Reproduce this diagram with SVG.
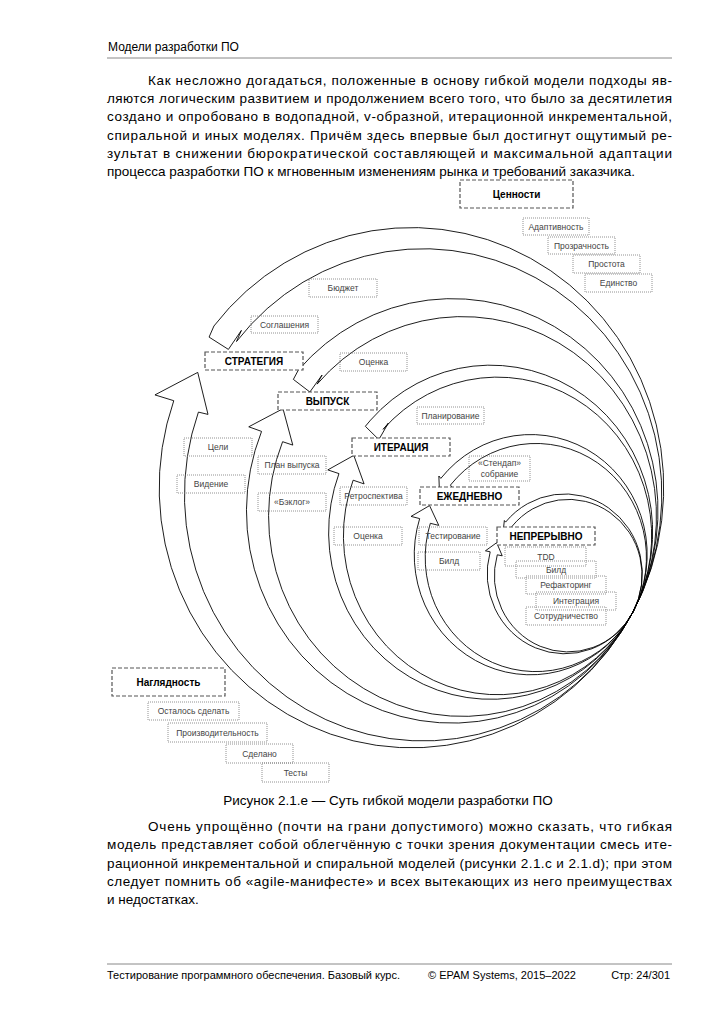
<svg xmlns="http://www.w3.org/2000/svg" width="725" height="1024" viewBox="0 0 725 1024">
<style>
.t{font-family:"Liberation Sans",Arial,sans-serif;fill:#000}
.p{font-size:13.5px}
.f{font-size:11px}
.band{fill:#fff;stroke:#000;stroke-width:0.9;stroke-linejoin:miter}
.hd rect{fill:#fff;stroke:#555;stroke-width:1.2;stroke-dasharray:4 2}
.hd text{font-family:"Liberation Sans",Arial,sans-serif;font-weight:bold;font-size:10px;text-anchor:middle;fill:#000}
.sm rect{fill:none;stroke:#777;stroke-width:0.8;stroke-dasharray:1 1}
.sm text{font-family:"Liberation Sans",Arial,sans-serif;font-size:8.5px;text-anchor:middle;fill:#444}
</style>
<rect width="725" height="1024" fill="#fff"/>

<g id="page-header">
<text class="t" x="108" y="51" font-size="12">Модели разработки ПО</text>
<line x1="107" y1="58" x2="672" y2="58" stroke="#888" stroke-width="1"/>
</g>

<g id="paragraph1" class="t p">
<text x="148" y="84.7" textLength="524" lengthAdjust="spacing">Как несложно догадаться, положенные в основу гибкой модели подходы яв-</text>
<text x="107" y="103" textLength="565" lengthAdjust="spacing">ляются логическим развитием и продолжением всего того, что было за десятилетия</text>
<text x="107" y="121.3" textLength="565" lengthAdjust="spacing">создано и опробовано в водопадной, v-образной, итерационной инкрементальной,</text>
<text x="107" y="139.6" textLength="565" lengthAdjust="spacing">спиральной и иных моделях. Причём здесь впервые был достигнут ощутимый ре-</text>
<text x="107" y="157.9" textLength="565" lengthAdjust="spacing">зультат в снижении бюрократической составляющей и максимальной адаптации</text>
<text x="107" y="176.2">процесса разработки ПО к мгновенным изменениям рынка и требований заказчика.</text>
</g>

<g id="connectors" transform="matrix(0.97 0 0 1 18.96 0)">
<path class="band" d="M633,612 A260,260 0 0 0 201.0,326.0 L196.0,337.1 L215.9,349.4 L229.3,330.4 L224.3,341.5 A246,246 0 0 1 633,612 Z"/>
<path class="band" d="M633,612 A260,260 0 0 1 159.6,400.7 L140.2,394.9 L184.3,372.4 L194.9,414.4 L185.0,412.1 A246,246 0 0 0 633,612 Z"/>
<path class="band" d="M633,612 A212,212 0 0 0 287.9,370.3 L282.9,379.4 L299.9,392.0 L312.5,375.0 L307.4,384.1 A200,200 0 0 1 633,612 Z"/>
<path class="band" d="M633,612 A212,212 0 0 1 250.1,431.4 L236.9,426.8 L272.2,408.7 L282.3,445.1 L271.8,441.7 A200,200 0 0 0 633,612 Z"/>
<path class="band" d="M633,612 A167,167 0 0 0 362.5,420.1 L357.1,426.3 L371.0,439.6 L380.8,423.1 L375.5,429.3 A159,159 0 0 1 633,612 Z"/>
<path class="band" d="M633,612 A167,167 0 0 1 329.9,473.6 L318.4,469.9 L345.2,455.4 L355.8,483.9 L344.5,480.2 A159,159 0 0 0 633,612 Z"/>
<path class="band" d="M633,612 A120,120 0 0 0 434.9,478.4 L432.9,476.0 L433.4,489.4 L446.7,487.4 L444.8,485.1 A114,114 0 0 1 633,612 Z"/>
<path class="band" d="M633,612 A120,120 0 0 1 413.1,518.6 L404.2,516.4 L423.3,505.6 L432.8,525.4 L424.1,523.3 A114,114 0 0 0 633,612 Z"/>
<path class="band" d="M633,612 A80,80 0 0 0 501.7,522.1 L500.4,520.5 L499.2,531.2 L509.6,528.2 L508.2,526.5 A76,76 0 0 1 633,612 Z"/>
<path class="band" d="M633,612 A80,80 0 0 1 485.8,551.8 L480.9,550.8 L492.5,542.7 L498.2,555.8 L493.1,554.8 A76,76 0 0 0 633,612 Z"/>
</g>

<g id="values" class="hd"><rect x="460" y="180" width="113" height="28"/><text x="516.5" y="197.5">Ценности</text></g>
<g id="strategy" class="hd"><rect x="205" y="352" width="98" height="18"/><text x="254" y="364.6">СТРАТЕГИЯ</text></g>
<g id="release" class="hd"><rect x="278" y="392" width="99" height="18"/><text x="327.5" y="404.6">ВЫПУСК</text></g>
<g id="iteration" class="hd"><rect x="352" y="438" width="98" height="18"/><text x="401" y="450.6">ИТЕРАЦИЯ</text></g>
<g id="daily" class="hd"><rect x="420" y="487" width="99" height="18"/><text x="469.5" y="499.6">ЕЖЕДНЕВНО</text></g>
<g id="continuous" class="hd"><rect x="497" y="527" width="98" height="18"/><text x="546" y="539.6">НЕПРЕРЫВНО</text></g>
<g id="visibility" class="hd"><rect x="112" y="668" width="113" height="28"/><text x="168.5" y="685.5">Наглядность</text></g>

<g id="v-adapt" class="sm"><rect x="523" y="218" width="66" height="17"/><text x="556" y="229.5">Адаптивность</text></g>
<g id="v-transp" class="sm"><rect x="548" y="237" width="67" height="17"/><text x="581.5" y="248.5">Прозрачность</text></g>
<g id="v-simple" class="sm"><rect x="573" y="255" width="67" height="18"/><text x="606.5" y="267">Простота</text></g>
<g id="v-unity" class="sm"><rect x="585" y="274" width="67" height="18"/><text x="618.5" y="286">Единство</text></g>

<g id="s-budget" class="sm"><rect x="309" y="279" width="68" height="18"/><text x="343" y="291">Бюджет</text></g>
<g id="s-agree" class="sm"><rect x="251" y="316" width="67" height="17"/><text x="284.5" y="327.5">Соглашения</text></g>
<g id="r-estimate" class="sm"><rect x="340" y="353" width="67" height="18"/><text x="373.5" y="365">Оценка</text></g>
<g id="s-goals" class="sm"><rect x="184" y="438" width="68" height="18"/><text x="218" y="450">Цели</text></g>
<g id="s-vision" class="sm"><rect x="177" y="475" width="68" height="18"/><text x="211" y="487">Видение</text></g>
<g id="r-plan" class="sm"><rect x="258" y="456" width="68" height="18"/><text x="292" y="468">План выпуска</text></g>
<g id="r-backlog" class="sm"><rect x="258" y="493" width="68" height="18"/><text x="292" y="505">«Бэклог»</text></g>
<g id="i-planning" class="sm"><rect x="417" y="407" width="67" height="17"/><text x="450.5" y="418.5">Планирование</text></g>
<g id="i-retro" class="sm"><rect x="340" y="487" width="67" height="18"/><text x="373.5" y="499">Ретроспектива</text></g>
<g id="i-estimate" class="sm"><rect x="334" y="527" width="68" height="18"/><text x="368" y="539">Оценка</text></g>
<g id="d-standup" class="sm"><rect x="469" y="456" width="61" height="25"/><text x="499.5" y="466">«Стендап»</text><text x="499.5" y="477">собрание</text></g>
<g id="d-testing" class="sm"><rect x="419" y="527" width="68" height="18"/><text x="453" y="539">Тестирование</text></g>
<g id="d-build" class="sm"><rect x="418" y="552" width="62" height="18"/><text x="449" y="564">Билд</text></g>
<g id="c-tdd" class="sm"><rect x="505" y="547" width="81" height="19"/><text x="546" y="559.5">TDD</text></g>
<g id="c-build" class="sm"><rect x="516" y="561" width="80" height="17"/><text x="556" y="572.5">Билд</text></g>
<g id="c-refactor" class="sm"><rect x="526" y="576" width="80" height="18"/><text x="566" y="588">Рефакторинг</text></g>
<g id="c-integr" class="sm"><rect x="536" y="592" width="80" height="18"/><text x="576" y="604">Интеграция</text></g>
<g id="c-collab" class="sm"><rect x="526" y="607" width="80" height="18"/><text x="566" y="619">Сотрудничество</text></g>

<g id="n-remaining" class="sm"><rect x="148" y="702" width="91" height="18"/><text x="193.5" y="714">Осталось сделать</text></g>
<g id="n-perf" class="sm"><rect x="168" y="723" width="99" height="19"/><text x="217.5" y="735.5">Производительность</text></g>
<g id="n-done" class="sm"><rect x="226" y="744" width="67" height="19"/><text x="259.5" y="756.5">Сделано</text></g>
<g id="n-tests" class="sm"><rect x="262" y="763" width="67" height="19"/><text x="295.5" y="775.5">Тесты</text></g>

<g id="caption"><text class="t p" x="388" y="804.5" text-anchor="middle">Рисунок 2.1.e — Суть гибкой модели разработки ПО</text></g>

<g id="paragraph2" class="t p">
<text x="148" y="831" textLength="524" lengthAdjust="spacing">Очень упрощённо (почти на грани допустимого) можно сказать, что гибкая</text>
<text x="107" y="849.3" textLength="565" lengthAdjust="spacing">модель представляет собой облегчённую с точки зрения документации смесь ите-</text>
<text x="107" y="867.6" textLength="565" lengthAdjust="spacing">рационной инкрементальной и спиральной моделей (рисунки 2.1.c и 2.1.d); при этом</text>
<text x="107" y="885.9" textLength="565" lengthAdjust="spacing">следует помнить об «agile-манифесте» и всех вытекающих из него преимуществах</text>
<text x="107" y="904.2">и недостатках.</text>
</g>

<g id="footer">
<line x1="107" y1="964" x2="672" y2="964" stroke="#888" stroke-width="1"/>
<text class="t f" x="107" y="979">Тестирование программного обеспечения. Базовый курс.</text>
<text class="t f" x="428" y="979">© EPAM Systems, 2015–2022</text>
<text class="t f" x="670" y="979" text-anchor="end">Стр: 24/301</text>
</g>
</svg>
